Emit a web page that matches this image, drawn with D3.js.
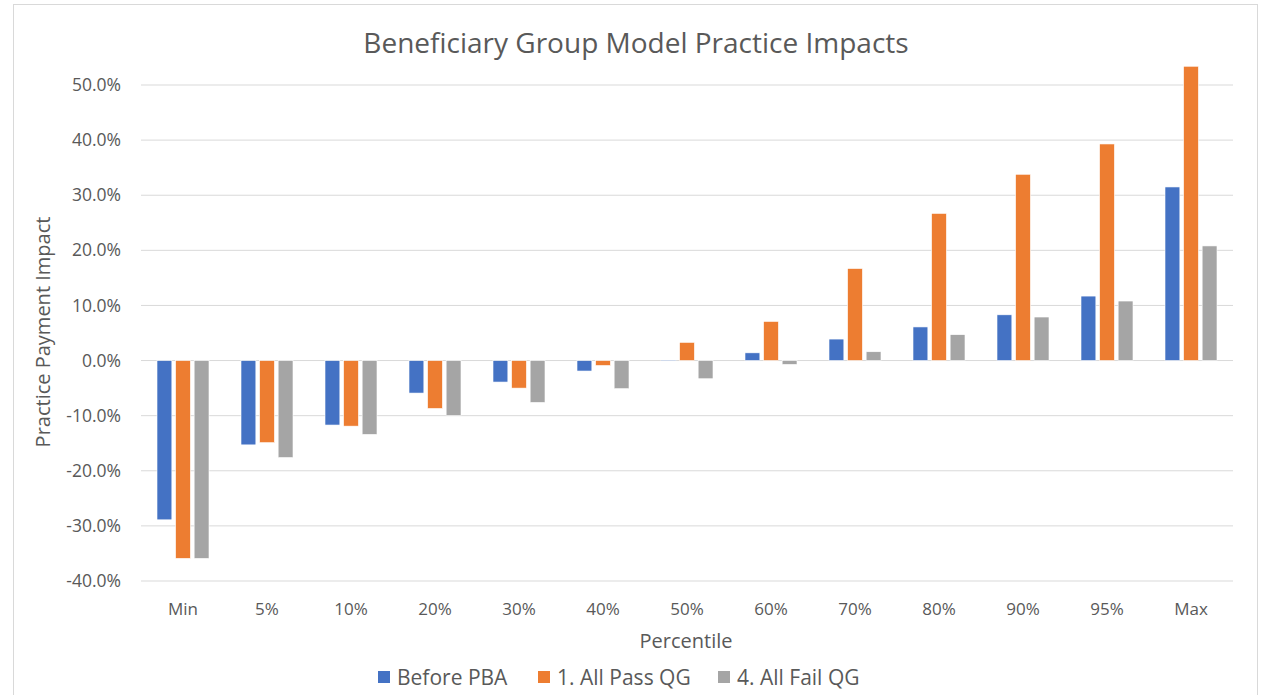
<!DOCTYPE html>
<html>
<head>
<meta charset="utf-8">
<script src="https://cdn.jsdelivr.net/npm/d3@7"></script>
<style>
  body { margin: 0; background: #fff; }
  text { font-family: "Open Sans", Lato, sans-serif; fill: #595959; }
</style>
</head>
<body>
<svg id="chart" width="1261" height="695"></svg>
<script>
// Data
const categories = ['Min', '5%', '10%', '20%', '30%', '40%', '50%', '60%', '70%', '80%', '90%', '95%', 'Max'];
const seriesNames = ['Before PBA', '1. All Pass QG', '4. All Fail QG'];
const beforePBA = [-28.9, -15.3, -11.7, -5.9, -3.9, -1.9, 0.1, 1.4, 3.9, 6.1, 8.3, 11.7, 31.5];
const allPassQG = [-35.9, -14.9, -11.9, -8.7, -5.0, -0.9, 3.3, 7.1, 16.7, 26.7, 33.8, 39.3, 53.4];
const allFailQG = [-35.9, -17.6, -13.4, -10.0, -7.6, -5.1, -3.3, -0.7, 1.6, 4.7, 7.9, 10.8, 20.8];
const yTicks = [-40, -30, -20, -10, 0, 10, 20, 30, 40, 50];
const colors = ['#4472C4', '#ED7D31', '#A5A5A5'];

const seriesValues = [beforePBA, allPassQG, allFailQG];

const svg = d3.select('#chart');
const margin = {top: 85, right: 28, bottom: 114, left: 141};
const width = 1261 - margin.left - margin.right;
const height = 581 - margin.top;

// chart border
svg.append('rect')
  .attr('x', 13.5).attr('y', 4.5)
  .attr('width', 1244).attr('height', 700)
  .attr('fill', 'none').attr('stroke', '#d9d9d9');

const g = svg.append('g').attr('transform', `translate(${margin.left},${margin.top})`);

const x = d3.scaleBand().domain(categories).range([0, width]);
const xInner = d3.scaleBand().domain(seriesNames)
  .range([x.bandwidth() / 2 - 26, x.bandwidth() / 2 + 26])
  .paddingInner(0.2);
const y = d3.scaleLinear().domain([-40, 50]).range([height, 0]);

// gridlines
g.append('g')
  .selectAll('line')
  .data(yTicks)
  .join('line')
  .attr('x1', 0).attr('x2', width)
  .attr('y1', d => y(d)).attr('y2', d => y(d))
  .attr('stroke', '#d9d9d9').attr('stroke-width', 1);

// y tick labels
g.append('g')
  .selectAll('text')
  .data(yTicks)
  .join('text')
  .attr('x', -20)
  .attr('y', d => y(d))
  .attr('dy', '0.35em')
  .attr('text-anchor', 'end')
  .style('font-size', '17.5px')
  .text(d => d.toFixed(1) + '%');

// bars
seriesNames.forEach((name, si) => {
  g.append('g')
    .selectAll('rect')
    .data(seriesValues[si])
    .join('rect')
    .attr('x', (d, i) => x(categories[i]) + xInner(name))
    .attr('y', d => y(Math.max(0, d)))
    .attr('width', xInner.bandwidth())
    .attr('height', d => Math.abs(y(d) - y(0)))
    .attr('fill', colors[si])
    .attr('stroke', '#fff')
    .attr('stroke-width', 0.6);
});

// x labels
g.append('g')
  .selectAll('text')
  .data(categories)
  .join('text')
  .attr('x', d => x(d) + x.bandwidth() / 2)
  .attr('y', height + 34)
  .attr('text-anchor', 'middle')
  .style('font-size', '17px')
  .text(d => d);

// title
svg.append('text')
  .attr('x', 636).attr('y', 53)
  .attr('text-anchor', 'middle')
  .style('font-size', '28px')
  .text('Beneficiary Group Model Practice Impacts');

// axis titles
svg.append('text')
  .attr('transform', 'translate(50,332) rotate(-90)')
  .attr('text-anchor', 'middle')
  .style('font-size', '20px')
  .text('Practice Payment Impact');

svg.append('text')
  .attr('x', 686).attr('y', 648)
  .attr('text-anchor', 'middle')
  .style('font-size', '20px')
  .text('Percentile');

// legend
const legendX = [378, 538, 718];
const legend = svg.append('g');
seriesNames.forEach((name, i) => {
  legend.append('rect')
    .attr('x', legendX[i]).attr('y', 671)
    .attr('width', 12).attr('height', 12)
    .attr('fill', colors[i]);
  legend.append('text')
    .attr('x', legendX[i] + 19).attr('y', 685)
    .style('font-size', '21px')
    .text(name);
});
</script>
</body>
</html>
